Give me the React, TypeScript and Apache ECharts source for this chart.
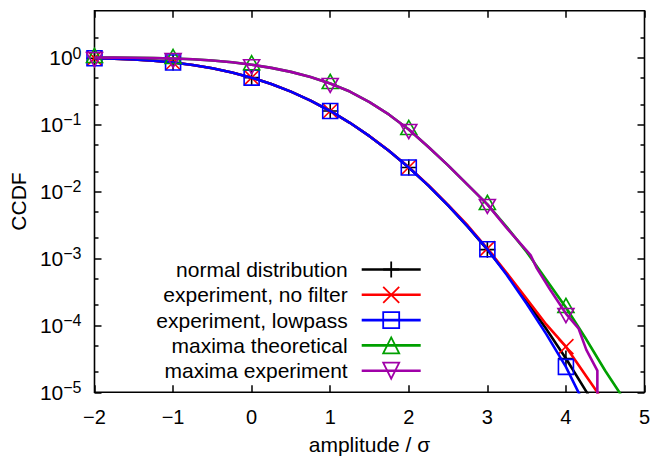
import React, { useEffect, useRef } from 'react';
import * as echarts from 'echarts';

const FONT = '"Liberation Sans", Arial, Helvetica, sans-serif';

const xTicks = [-2, -1, 0, 1, 2, 3, 4, 5];
const yMajorTicks = [1e-5, 1e-4, 1e-3, 1e-2, 1e-1, 1];
const yMinorTicks = [2e-5, 5e-5, 2e-4, 5e-4, 2e-3, 5e-3, 2e-2, 5e-2, 2e-1, 5e-1, 2];
const markerX = [-2, -1, 0, 1, 2, 3, 4];

const seriesNames = [
  'normal distribution',
  'experiment, no filter',
  'experiment, lowpass',
  'maxima theoretical',
  'maxima experiment',
];
const seriesColors = ['#000000', '#ff0000', '#0000ff', '#00a000', '#a000a8'];

const normalX = [-2, -1.75, -1.5, -1.25, -1, -0.75, -0.5, -0.25, 0, 0.25, 0.5, 0.75, 1, 1.25, 1.5, 1.75, 2, 2.25, 2.5, 2.75, 3, 3.25, 3.5, 3.75, 4, 4.25, 4.35];
const normalY = [0.977, 0.96, 0.933, 0.894, 0.841, 0.773, 0.691, 0.599, 0.5, 0.401, 0.309, 0.227, 0.159, 0.106, 0.0668, 0.0401, 0.0228, 0.0122, 0.0062, 0.00298, 0.00135, 0.00058, 0.00023, 0.000088, 0.000032, 0.0000107, 0.0000068];

const noFilterX = [-2, -1.75, -1.5, -1.25, -1, -0.75, -0.5, -0.25, 0, 0.25, 0.5, 0.75, 1, 1.25, 1.5, 1.75, 2, 2.25, 2.5, 2.75, 3, 3.25, 3.5, 3.75, 4, 4.25, 4.4, 4.5];
const noFilterY = [0.977, 0.96, 0.933, 0.894, 0.841, 0.773, 0.691, 0.599, 0.5, 0.401, 0.309, 0.227, 0.159, 0.106, 0.067, 0.0403, 0.023, 0.0124, 0.0063, 0.0031, 0.0014, 0.0006, 0.00025, 0.000103, 0.000048, 0.000018, 0.00001, 0.000006];

const lowpassX = [-2, -1.75, -1.5, -1.25, -1, -0.75, -0.5, -0.25, 0, 0.25, 0.5, 0.75, 1, 1.25, 1.5, 1.75, 2, 2.25, 2.5, 2.75, 3, 3.25, 3.5, 3.75, 4, 4.16, 4.25];
const lowpassY = [0.977, 0.96, 0.933, 0.894, 0.841, 0.773, 0.691, 0.599, 0.5, 0.401, 0.309, 0.227, 0.159, 0.106, 0.0668, 0.0401, 0.0228, 0.0122, 0.0062, 0.00298, 0.00137, 0.00056, 0.00021, 0.000074, 0.000024, 0.00001, 0.000006];

const maxTheoX = [-2, -1.75, -1.5, -1.25, -1, -0.75, -0.5, -0.25, 0, 0.25, 0.5, 0.75, 1, 1.25, 1.5, 1.75, 2, 2.25, 2.5, 2.75, 3, 3.25, 3.5, 3.75, 4, 4.25, 4.5, 4.68, 4.75];
const maxTheoY = [0.999, 0.996, 0.99, 0.98, 0.965, 0.94, 0.9, 0.85, 0.78, 0.7, 0.61, 0.51, 0.41, 0.31, 0.215, 0.14, 0.084, 0.046, 0.0245, 0.0125, 0.0064, 0.0029, 0.00125, 0.00048, 0.000185, 0.000064, 0.000021, 0.00001, 0.000007];

const maxExpX = [-2, -1.75, -1.5, -1.25, -1, -0.75, -0.5, -0.25, 0, 0.25, 0.5, 0.75, 1, 1.25, 1.5, 1.75, 2, 2.25, 2.5, 2.75, 3, 3.25, 3.55, 3.63, 3.8, 4, 4.16, 4.26, 4.4, 4.4];
const maxExpY = [0.999, 0.996, 0.99, 0.98, 0.965, 0.94, 0.9, 0.85, 0.78, 0.7, 0.61, 0.51, 0.41, 0.31, 0.215, 0.14, 0.084, 0.046, 0.0245, 0.0125, 0.0064, 0.0028, 0.00112, 0.00071, 0.00034, 0.00015, 0.00009, 0.000043, 0.000021, 0.000005];

const symbols = [
  'path://M5,0L5,10M0,5L10,5',
  'path://M0,0L10,10M0,10L10,0',
  'rect',
  'triangle',
  'path://M0,0L10,0L5,8.5Z',
];
const symbolSizes: any[] = [16, 15, [15, 15], [16, 14], [16, 14]];
const symbolOffsets: any[] = [[0, 0], [0, 0], [0, 0], [0, -2], [0, 2]];

const allX = [normalX, noFilterX, lowpassX, maxTheoX, maxExpX];
const allY = [normalY, noFilterY, lowpassY, maxTheoY, maxExpY];

const minus = (v: number) => (v < 0 ? '\u2212' + -v : String(v));

export default function App() {
  const ref = useRef<HTMLDivElement>(null);
  useEffect(() => {
    if (!ref.current) return;
    const chart = echarts.init(ref.current, null, { renderer: 'svg' });

    const series = seriesNames.map((name, s) => {
      const color = seriesColors[s];
      return {
        name,
        type: 'line',
        xAxisIndex: 0,
        yAxisIndex: 0,
        symbol: symbols[s],
        symbolSize: symbolSizes[s],
        symbolOffset: symbolOffsets[s],
        showSymbol: true,
        smooth: false,
        data: allX[s].map((x, i) =>
          markerX.includes(x) && !(s === 4 && i === allX[s].length - 1)
            ? { value: [x, allY[s][i]] }
            : { value: [x, allY[s][i]], symbol: 'none' }
        ),
        lineStyle: { color, width: 2.6, join: 'round' },
        itemStyle: { color: 'rgba(0,0,0,0)', borderColor: color, borderWidth: 1.6 },
        emphasis: { disabled: true },
        z: 2 + s,
      };
    });

    const tickStyle = { color: '#000', width: 1.5 };
    const logAxisBase = {
      type: 'log',
      logBase: 10,
      min: 1e-5,
      max: 5,
      axisLine: { show: false, onZero: false },
      splitLine: { show: false },
    };

    chart.setOption({
      animation: false,
      textStyle: { fontFamily: FONT, color: '#000' },
      grid: {
        left: 94.5,
        right: 8.5,
        top: 10.7,
        bottom: 64.7,
        outerBoundsMode: 'none',
        containLabel: false,
        show: true,
        borderColor: '#000',
        borderWidth: 1.6,
        backgroundColor: 'transparent',
      },
      legend: {
        orient: 'vertical',
        align: 'right',
        right: 231,
        top: 259,
        padding: 0,
        itemWidth: 59,
        itemHeight: 20,
        itemGap: 4.3,
        textStyle: { fontSize: 21, fontFamily: FONT, color: '#000', lineHeight: 20, padding: [0, 9, 0, 0] },
        data: seriesNames.map((name, s) => ({
          name,
          itemStyle: { color: 'rgba(0,0,0,0)', borderColor: seriesColors[s], borderWidth: 1.8 },
          lineStyle: { color: seriesColors[s], width: 2.6 },
        })),
      },
      xAxis: [
        {
          type: 'value',
          min: xTicks[0],
          max: xTicks[xTicks.length - 1],
          interval: 1,
          position: 'bottom',
          axisLine: { show: false, onZero: false },
          splitLine: { show: false },
          axisTick: { inside: true, length: 7, lineStyle: tickStyle },
          axisLabel: { formatter: (v: number) => minus(v), fontSize: 20, color: '#000', margin: 15, fontFamily: FONT },
          name: 'amplitude / \u03c3',
          nameLocation: 'middle',
          nameGap: 42,
          nameTextStyle: { fontSize: 21, color: '#000', fontFamily: FONT, lineHeight: 21 },
        },
        {
          type: 'value',
          min: xTicks[0],
          max: xTicks[xTicks.length - 1],
          interval: 1,
          position: 'top',
          axisLine: { show: false, onZero: false },
          splitLine: { show: false },
          axisTick: { inside: true, length: 7, lineStyle: tickStyle },
          axisLabel: { show: false },
        },
      ],
      yAxis: [
        {
          ...logAxisBase,
          position: 'left',
          axisTick: { inside: true, length: 7, lineStyle: tickStyle, customValues: yMajorTicks },
          axisLabel: {
            customValues: yMajorTicks,
            margin: 13,
            formatter: (v: number) => {
              const e = Math.round(Math.log10(v));
              return '{b|10}{s|' + minus(e) + '}';
            },
            rich: {
              b: { fontSize: 21, fontFamily: FONT, color: '#000' },
              s: { fontSize: 16, fontFamily: FONT, color: '#000', padding: [0, 0, 9, 0] },
            },
          },
          name: 'CCDF',
          nameLocation: 'middle',
          nameGap: 62,
          nameTextStyle: { fontSize: 21, color: '#000', fontFamily: FONT },
        },
        {
          ...logAxisBase,
          position: 'left',
          axisTick: { inside: true, length: 4, lineStyle: tickStyle, customValues: yMinorTicks },
          axisLabel: { show: false },
        },
        {
          ...logAxisBase,
          position: 'right',
          axisTick: { inside: true, length: 7, lineStyle: tickStyle, customValues: yMajorTicks },
          axisLabel: { show: false },
        },
        {
          ...logAxisBase,
          position: 'right',
          axisTick: { inside: true, length: 4, lineStyle: tickStyle, customValues: yMinorTicks },
          axisLabel: { show: false },
        },
      ],
      series,
    });
    return () => chart.dispose();
  }, []);
  return <div ref={ref} style={{ position: 'absolute', left: 0, top: 0, width: 653, height: 457, background: '#fff' }} />;
}
